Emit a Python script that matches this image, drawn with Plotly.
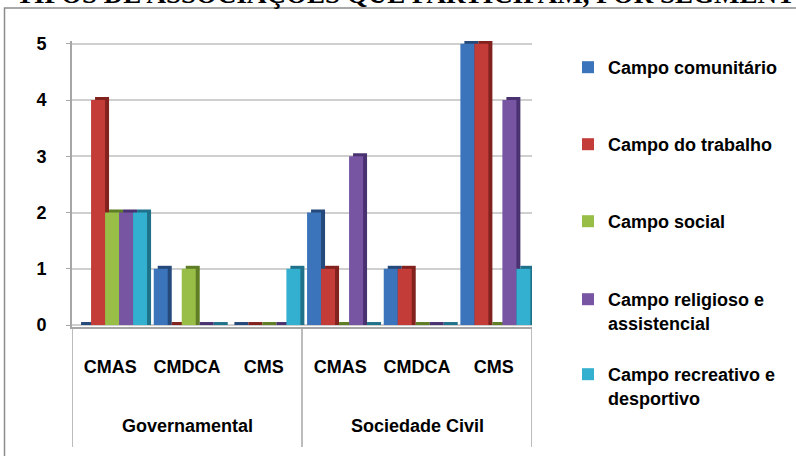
import plotly.graph_objects as go

# ---------------- data ----------------
group_labels = ["Governamental", "Sociedade Civil"]
councils = ["CMAS", "CMDCA", "CMS", "CMAS", "CMDCA", "CMS"]
councils_per_group = 3

series_names = [
    "Campo comunitário",
    "Campo do trabalho",
    "Campo social",
    "Campo religioso e<br>assistencial",
    "Campo recreativo e<br>desportivo",
]
comunitario = [0, 1, 0, 2, 1, 5]
trabalho = [4, 0, 0, 1, 1, 5]
social = [2, 1, 0, 0, 0, 0]
religioso = [2, 0, 0, 3, 0, 4]
recreativo = [2, 0, 1, 0, 0, 1]
series_values = [comunitario, trabalho, social, religioso, recreativo]

y_ticks = [0, 1, 2, 3, 4, 5]
title_text = "TIPOS DE ASSOCIAÇÕES QUE PARTICIPAM, POR SEGMENTO"

# ---------------- style ----------------
front_colors = ["#3C74BC", "#C43C38", "#98BE48", "#7755A3", "#33AFCF"]
side_colors = ["#24497A", "#82221F", "#5E7D24", "#4A3271", "#1F728A"]

W, H = 796, 456
L, R, T, B = 72, 264, 41, 129
plot_w = W - L - R
plot_h = H - T - B
y_range = [-0.035, 5.05]
n_cat = len(councils)
cat_px = plot_w / float(n_cat)
unit_px = plot_h / (y_range[1] - y_range[0])

def px_x(p):
    return (p - L) / plot_w

def px_y(p):
    return (H - B - p) / plot_h

bar_w = 14.0 / cat_px
first_off = -0.434
dx = 4.0 / cat_px
dy = 3.0 / unit_px

fnt = "Liberation Sans, Arial, sans-serif"
xpos = list(range(n_cat))

fig = go.Figure()

# depth (side/top) faces first
for i, vals in enumerate(series_values):
    fig.add_trace(go.Bar(
        x=xpos, y=[v + dy for v in vals], base=0,
        offset=first_off + i * bar_w + dx, width=bar_w,
        marker=dict(color=side_colors[i], line=dict(width=0)),
        showlegend=False, hoverinfo="skip",
    ))

legend_keys = ["legend", "legend2", "legend3", "legend4", "legend5"]
for i, vals in enumerate(series_values):
    fig.add_trace(go.Bar(
        x=xpos, y=vals, name=series_names[i],
        offset=first_off + i * bar_w, width=bar_w,
        marker=dict(color=front_colors[i], line=dict(width=0)),
        legend=legend_keys[i],
    ))

legend_tops = [49, 126, 203, 281, 356]
legend_common = dict(
    x=px_x(568), xanchor="left", yanchor="top",
    font=dict(family=fnt, size=18, color="#000000", weight="bold"),
    bgcolor="rgba(0,0,0,0)", borderwidth=0, valign="top",
    itemclick=False, itemdoubleclick=False,
)
legend_layout = {}
for k, top in zip(legend_keys, legend_tops):
    d = dict(legend_common)
    d["y"] = px_y(top)
    legend_layout[k] = d

fig.update_layout(
    width=W, height=H,
    margin=dict(l=L, r=R, t=T, b=B),
    paper_bgcolor="white", plot_bgcolor="white",
    barmode="overlay",
    xaxis=dict(
        range=[-0.5, n_cat - 0.5], tickvals=xpos, ticktext=councils,
        showgrid=False, showline=True, linecolor="#a6a6a6", linewidth=2,
        ticks="", ticklabelstandoff=22, tickangle=0,
        tickfont=dict(family=fnt, size=18, color="#000000", weight="bold"),
        zeroline=False,
    ),
    yaxis=dict(
        range=y_range, tickvals=y_ticks,
        showgrid=True, gridcolor="#cfcfcf", gridwidth=2,
        showline=True, linecolor="#a6a6a6", linewidth=2,
        ticks="outside", ticklen=4, tickcolor="#a6a6a6",
        ticklabelstandoff=16, zeroline=False,
        tickfont=dict(family=fnt, size=18, color="#000000", weight="bold"),
    ),
    showlegend=True,
    **legend_layout,
)

# group labels and dividers of the two-level category axis
for g, name in enumerate(group_labels):
    start = g * councils_per_group
    center = start + (councils_per_group - 1) / 2.0
    fig.add_annotation(
        xref="x", yref="paper", x=center, y=px_y(426),
        xanchor="center", yanchor="middle", showarrow=False,
        text=name, font=dict(family=fnt, size=18, color="#000000", weight="bold"),
    )
divider_pos = [g * councils_per_group - 0.5 for g in range(len(group_labels) + 1)]
for xd in divider_pos:
    fig.add_shape(
        type="line", xref="x", yref="paper",
        x0=xd, x1=xd, y0=px_y(327), y1=px_y(447),
        line=dict(color="#a6a6a6", width=1.5),
    )

fig.add_annotation(
    xref="paper", yref="paper", x=px_x(14), y=px_y(11),
    xanchor="left", yanchor="bottom", showarrow=False,
    text="<b>" + title_text + "</b>",
    font=dict(family="Liberation Serif, Times New Roman, serif", size=27, color="#000000"),
)

fig.add_shape(
    type="rect", xref="paper", yref="paper",
    x0=px_x(4.5), x1=px_x(805), y0=px_y(465), y1=px_y(8),
    line=dict(color="#8c8c8c", width=1.5), fillcolor="rgba(0,0,0,0)", layer="below",
)

fig.write_html("out.html")
